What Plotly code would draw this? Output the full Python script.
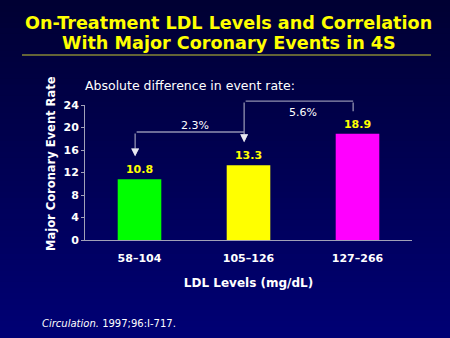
import plotly.graph_objects as go

categories = ["58–104", "105–126", "127–266"]
event_rates = [10.8, 13.3, 18.9]
bar_colors = ["#00ff00", "#ffff00", "#ff00ff"]
y_ticks = [0, 4, 8, 12, 16, 20, 24]
diff_labels = ["2.3%", "5.6%"]

W, H = 450, 338
Y_DOM = [(H - 240) / H, (H - 105) / H]
Y_RANGE = [0, 24]


def ypaper(v):
    return Y_DOM[0] + (v - Y_RANGE[0]) / (Y_RANGE[1] - Y_RANGE[0]) * (Y_DOM[1] - Y_DOM[0])


fig = go.Figure()
fig.add_trace(go.Bar(
    x=list(range(len(categories))), y=event_rates,
    marker=dict(color=bar_colors, line=dict(width=0)),
    text=["<b>%.1f</b>" % v for v in event_rates], textposition="outside",
    textfont=dict(family="DejaVu Sans", size=11, color="#ffff00"),
    cliponaxis=False, width=0.4,
))

# background gradient
shapes = []
n = 60
top = (0x00, 0x00, 0x33)
bot = (0x00, 0x00, 0x74)
for i in range(n):
    t = i / (n - 1)
    c = tuple(int(round(top[k] + (bot[k] - top[k]) * t)) for k in range(3))
    shapes.append(dict(type="rect", xref="paper", yref="paper", x0=0, x1=1,
                       y0=1 - (i + 1) / n - 0.002, y1=1 - i / n,
                       fillcolor="rgb(%d,%d,%d)" % c, line=dict(width=0), layer="below"))
# title underline
shapes.append(dict(type="line", xref="paper", yref="paper", x0=22 / W, x1=431 / W,
                   y0=1 - 55 / H, y1=1 - 55 / H, line=dict(color="#c8c832", width=1)))

line_col = "#9090b0"
off = -0.04
lo_y, hi_y = 19.2, 24.7
annotations = []


def seg(x0, y0, x1, y1, head=0, col=line_col):
    annotations.append(dict(x=x1, y=ypaper(y1), xref="x", yref="paper",
                            ax=x0, axref="x", ay=-(ypaper(y0) - ypaper(y1)) * H, ayref="pixel",
                            text="", showarrow=True, arrowhead=head, arrowsize=1.2,
                            arrowwidth=1.3, arrowcolor=col))


seg(0 + off, lo_y, 1 + off, lo_y)
seg(1 + off, hi_y, 2 + off, hi_y)
seg(2 + off, hi_y, 2 + off, 22.9)
seg(0 + off, lo_y, 0 + off, 14.9, head=2)
seg(1 + off, hi_y, 1 + off, 17.4, head=2)
# white arrow tips
seg(0 + off, 15.6, 0 + off, 14.9, head=2, col="#e8e8f0")
seg(1 + off, 18.1, 1 + off, 17.4, head=2, col="#e8e8f0")

annotations.append(dict(x=0.51, y=20.3, xref="x", yref="y", text=diff_labels[0], showarrow=False,
                        font=dict(family="DejaVu Sans", size=11, color="white")))
annotations.append(dict(x=1.5, y=22.6, xref="x", yref="y", text=diff_labels[1], showarrow=False,
                        font=dict(family="DejaVu Sans", size=11, color="white")))

annotations += [
    dict(x=228 / W, y=1 - 23 / H, xref="paper", yref="paper", showarrow=False, yanchor="middle",
         text="<b>On-Treatment LDL Levels and Correlation</b>",
         font=dict(family="DejaVu Sans", size=17.6, color="#ffff00")),
    dict(x=229 / W, y=1 - 43 / H, xref="paper", yref="paper", showarrow=False, yanchor="middle",
         text="<b>With Major Coronary Events in 4S</b>",
         font=dict(family="DejaVu Sans", size=17.6, color="#ffff00")),
    dict(x=83 / W, y=1 - 85 / H, xref="paper", yref="paper", showarrow=False, xanchor="left",
         yanchor="middle", text="Absolute difference in event rate:",
         font=dict(family="DejaVu Sans", size=12.5, color="white")),
    dict(x=40 / W, y=1 - 323 / H, xref="paper", yref="paper", showarrow=False, xanchor="left",
         yanchor="middle", text="<i>Circulation.</i> 1997;96:I-717.",
         font=dict(family="DejaVu Sans", size=10, color="white")),
    dict(x=51 / W, y=1 - 164 / H, xref="paper", yref="paper", showarrow=False, textangle=-90,
         xanchor="center", yanchor="middle", text="<b>Major Coronary Event Rate</b>",
         font=dict(family="DejaVu Sans", size=11.5, color="white")),
]

fig.update_layout(
    width=W, height=H, margin=dict(l=0, r=0, t=0, b=0),
    paper_bgcolor="#000050", plot_bgcolor="rgba(0,0,0,0)",
    showlegend=False, shapes=shapes, annotations=annotations,
    xaxis=dict(domain=[85 / W, 412 / W], range=[-0.5, 2.5], tickvals=list(range(len(categories))),
               ticktext=["<b>%s</b>" % c for c in categories], showgrid=False, zeroline=False,
               showline=True, linecolor="#a0a0b8", linewidth=1, ticks="",
               ticklabelstandoff=8,
               tickfont=dict(family="DejaVu Sans", size=11, color="white"),
               title=dict(text="<b>LDL Levels (mg/dL)</b>", standoff=14,
                          font=dict(family="DejaVu Sans", size=12, color="white")),
               automargin=False),
    yaxis=dict(domain=Y_DOM, range=Y_RANGE, tickvals=y_ticks,
               ticktext=["<b>%d</b>" % v for v in y_ticks], showgrid=False, zeroline=False,
               showline=True, linecolor="#a0a0b8", linewidth=1, ticks="outside", ticklen=3,
               tickcolor="#a0a0b8",
               tickfont=dict(family="DejaVu Sans", size=11, color="white"),
               automargin=False),
)
fig.write_html("out.html")
